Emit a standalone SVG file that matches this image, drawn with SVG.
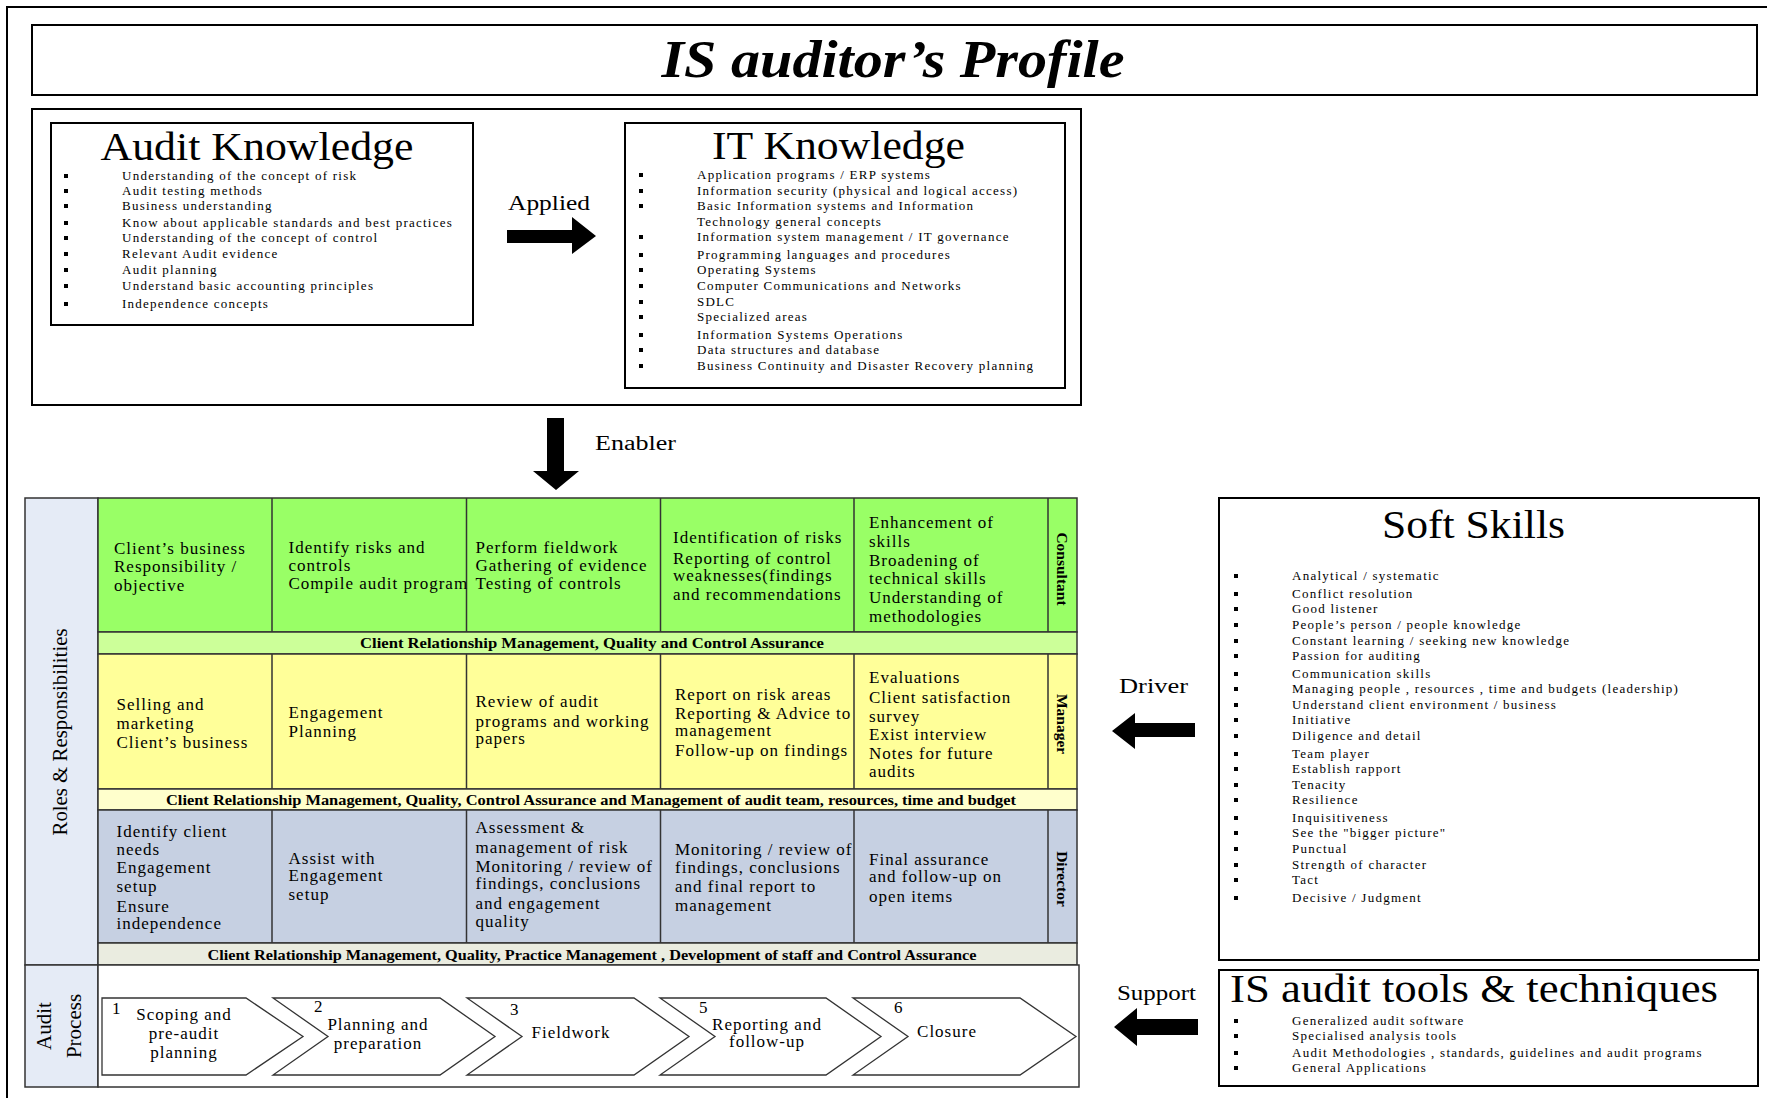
<svg xmlns="http://www.w3.org/2000/svg" width="1767" height="1098" viewBox="0 0 1767 1098">
<style>
.t{font-family:"Liberation Serif","Times New Roman",serif;fill:#000}
.box{fill:#fff;stroke:#000;stroke-width:2}
.ttl{font-size:41px}
.li{font-size:13px;letter-spacing:1.25px}
.cell{font-size:17px;letter-spacing:1px}
.band{font-size:14px;font-weight:bold}
.role{font-size:15.5px;font-weight:bold}
.lbl{font-size:20px}
.side{font-size:21px}
.g{stroke:#333;stroke-width:1.5}
.chev{fill:#fff;stroke:#333;stroke-width:1.3}
.blt{fill:#000}
.arr{fill:#000}
.mid{text-anchor:middle}
</style>
<defs>
<rect id="b" width="4" height="4" class="blt"/>
</defs>

<rect x="7" y="7" width="1800" height="1200" fill="#fff" stroke="#000" stroke-width="2"/>

<g id="title">
<rect class="box" x="32" y="25" width="1725" height="70"/>
<text class="t mid" x="893" y="77" font-size="52" font-weight="bold" font-style="italic" textLength="463" lengthAdjust="spacingAndGlyphs">IS auditor&#8217;s Profile</text>
</g>

<g id="knowledge-frame">
<rect class="box" x="32" y="109" width="1049" height="296"/>
</g>

<g id="audit-knowledge">
<rect class="box" x="51" y="123" width="422" height="202"/>
<text class="t mid" font-size="39" x="257" y="160" textLength="313" lengthAdjust="spacingAndGlyphs">Audit Knowledge</text>
<use href="#b" x="64" y="174"/><text class="t li" x="122" y="180">Understanding of the concept of risk</text>
<use href="#b" x="64" y="189"/><text class="t li" x="122" y="195">Audit testing methods</text>
<use href="#b" x="64" y="204"/><text class="t li" x="122" y="210">Business understanding</text>
<use href="#b" x="64" y="221"/><text class="t li" x="122" y="227">Know about applicable standards and best practices</text>
<use href="#b" x="64" y="236"/><text class="t li" x="122" y="242">Understanding of the concept of control</text>
<use href="#b" x="64" y="252"/><text class="t li" x="122" y="258">Relevant Audit evidence</text>
<use href="#b" x="64" y="268"/><text class="t li" x="122" y="274">Audit planning</text>
<use href="#b" x="64" y="284"/><text class="t li" x="122" y="290">Understand basic accounting principles</text>
<use href="#b" x="64" y="302"/><text class="t li" x="122" y="308">Independence concepts</text>
</g>

<g id="it-knowledge">
<rect class="box" x="625" y="123" width="440" height="265"/>
<text class="t ttl mid" x="838.5" y="159" textLength="253" lengthAdjust="spacingAndGlyphs">IT Knowledge</text>
<use href="#b" x="639" y="173"/><text class="t li" x="697" y="179">Application programs  / ERP systems</text>
<use href="#b" x="639" y="189"/><text class="t li" x="697" y="195">Information security  (physical and logical access)</text>
<use href="#b" x="639" y="204"/><text class="t li" x="697" y="210">Basic Information systems and Information</text>
<text class="t li" x="697" y="226">Technology general concepts</text>
<use href="#b" x="639" y="235"/><text class="t li" x="697" y="241">Information system management   / IT governance</text>
<use href="#b" x="639" y="253"/><text class="t li" x="697" y="259">Programming languages and procedures</text>
<use href="#b" x="639" y="268"/><text class="t li" x="697" y="274">Operating Systems</text>
<use href="#b" x="639" y="284"/><text class="t li" x="697" y="290">Computer Communications and Networks</text>
<use href="#b" x="639" y="300"/><text class="t li" x="697" y="306">SDLC</text>
<use href="#b" x="639" y="315"/><text class="t li" x="697" y="321">Specialized areas</text>
<use href="#b" x="639" y="333"/><text class="t li" x="697" y="339">Information Systems Operations</text>
<use href="#b" x="639" y="348"/><text class="t li" x="697" y="354">Data structures and database</text>
<use href="#b" x="639" y="364"/><text class="t li" x="697" y="370">Business Continuity and Disaster Recovery planning</text>
</g>

<g id="roles">
<rect x="25" y="498" width="73" height="467" fill="#E5EBF6" class="g"/>
<rect x="98" y="498" width="979" height="134" fill="#99FF66" class="g"/>
<rect x="98" y="632" width="979" height="22" fill="#CCFF99" class="g"/>
<rect x="98" y="654" width="979" height="135" fill="#FFFF99" class="g"/>
<rect x="98" y="789" width="979" height="21" fill="#FFFFCC" class="g"/>
<rect x="98" y="810" width="979" height="133" fill="#C6D0E2" class="g"/>
<rect x="98" y="943" width="979" height="22" fill="#EAECE0" class="g"/>
<g class="g">
<line x1="272" y1="498" x2="272" y2="632"/><line x1="466.5" y1="498" x2="466.5" y2="632"/><line x1="660.5" y1="498" x2="660.5" y2="632"/><line x1="854" y1="498" x2="854" y2="632"/><line x1="1048" y1="498" x2="1048" y2="632"/>
<line x1="272" y1="654" x2="272" y2="789"/><line x1="466.5" y1="654" x2="466.5" y2="789"/><line x1="660.5" y1="654" x2="660.5" y2="789"/><line x1="854" y1="654" x2="854" y2="789"/><line x1="1048" y1="654" x2="1048" y2="789"/>
<line x1="272" y1="810" x2="272" y2="943"/><line x1="466.5" y1="810" x2="466.5" y2="943"/><line x1="660.5" y1="810" x2="660.5" y2="943"/><line x1="854" y1="810" x2="854" y2="943"/><line x1="1048" y1="810" x2="1048" y2="943"/>
</g>
<text class="t mid" font-size="21" transform="translate(67,732) rotate(-90)" textLength="207" lengthAdjust="spacingAndGlyphs">Roles &amp; Responsibilities</text>

<text class="t role mid" transform="translate(1062,569) rotate(90)" dominant-baseline="central">Consultant</text>
<text class="t role mid" transform="translate(1062,724) rotate(90)" dominant-baseline="central">Manager</text>
<text class="t role mid" transform="translate(1062,879) rotate(90)" dominant-baseline="central">Director</text>

<text class="t band mid" x="592" y="648" textLength="464" lengthAdjust="spacingAndGlyphs">Client Relationship Management, Quality and  Control Assurance</text>
<text class="t band mid" x="591" y="805" textLength="850" lengthAdjust="spacingAndGlyphs">Client Relationship Management, Quality,  Control Assurance and Management of audit team, resources, time and budget</text>
<text class="t band mid" x="592" y="959.5" textLength="769" lengthAdjust="spacingAndGlyphs">Client Relationship Management, Quality, Practice Management , Development of staff and Control Assurance</text>

<g class="t cell">
<text x="114" y="554">Client&#8217;s business</text><text x="114" y="572">Responsibility  /</text><text x="114" y="591">objective</text>
<text x="288.5" y="553">Identify risks and</text><text x="288.5" y="571">controls</text><text x="288.5" y="589">Compile audit program</text>
<text x="475.5" y="553">Perform fieldwork</text><text x="475.5" y="571">Gathering of evidence</text><text x="475.5" y="589">Testing of controls</text>
<text x="673" y="543">Identification of risks</text><text x="673" y="564">Reporting of control</text><text x="673" y="581">weaknesses(findings</text><text x="673" y="600">and recommendations</text>
<text x="869" y="528">Enhancement of</text><text x="869" y="547">skills</text><text x="869" y="566">Broadening of</text><text x="869" y="584">technical skills</text><text x="869" y="603">Understanding of</text><text x="869" y="622">methodologies</text>

<text x="116.5" y="710">Selling and</text><text x="116.5" y="729">marketing</text><text x="116.5" y="748">Client&#8217;s business</text>
<text x="288.5" y="718">Engagement</text><text x="288.5" y="737">Planning</text>
<text x="475.5" y="707">Review of audit</text><text x="475.5" y="727">programs and working</text><text x="475.5" y="744">papers</text>
<text x="675" y="700">Report on risk areas</text><text x="675" y="719">Reporting &amp; Advice to</text><text x="675" y="736">management</text><text x="675" y="756">Follow-up on findings</text>
<text x="869" y="683">Evaluations</text><text x="869" y="703">Client satisfaction</text><text x="869" y="722">survey</text><text x="869" y="740">Exist interview</text><text x="869" y="759">Notes for future</text><text x="869" y="777">audits</text>

<text x="116.5" y="837">Identify client</text><text x="116.5" y="855">needs</text><text x="116.5" y="873">Engagement</text><text x="116.5" y="892">setup</text><text x="116.5" y="912">Ensure</text><text x="116.5" y="929">independence</text>
<text x="288.5" y="864">Assist with</text><text x="288.5" y="881">Engagement</text><text x="288.5" y="900">setup</text>
<text x="475.5" y="833">Assessment &amp;</text><text x="475.5" y="853">management of risk</text><text x="475.5" y="872">Monitoring / review of</text><text x="475.5" y="889">findings, conclusions</text><text x="475.5" y="909">and engagement</text><text x="475.5" y="927">quality</text>
<text x="675" y="855">Monitoring / review of</text><text x="675" y="873">findings, conclusions</text><text x="675" y="892">and final report to</text><text x="675" y="911">management</text>
<text x="869" y="865">Final assurance</text><text x="869" y="882">and follow-up on</text><text x="869" y="902">open items</text>
</g>
</g>

<g id="audit-process">
<rect x="25" y="965" width="73" height="122" fill="#E5EBF6" class="g"/>
<rect x="98" y="965" width="981" height="122" fill="#fff" class="g"/>
<text class="t side mid" transform="translate(51,1026) rotate(-90)">Audit</text>
<text class="t side mid" transform="translate(81,1026) rotate(-90)">Process</text>
<polygon class="chev" points="102,998 246,998 303,1036.5 246,1075 102,1075"/>
<polygon class="chev" points="273,998 440,998 495,1036.5 440,1075 273,1075 328,1036.5"/>
<polygon class="chev" points="467,998 634,998 689,1036.5 634,1075 467,1075 522,1036.5"/>
<polygon class="chev" points="660,998 826,998 881,1036.5 826,1075 660,1075 715,1036.5"/>
<polygon class="chev" points="853,998 1020,998 1076,1036.5 1020,1075 853,1075 908,1036.5"/>
<g class="t cell">
<text x="112" y="1014">1</text>
<text class="mid" x="184" y="1020">Scoping and</text><text class="mid" x="184" y="1039">pre-audit</text><text class="mid" x="184" y="1058">planning</text>
<text x="314" y="1012">2</text>
<text class="mid" x="378" y="1030">Planning and</text><text class="mid" x="378" y="1049">preparation</text>
<text x="510" y="1015">3</text>
<text class="mid" x="571" y="1038">Fieldwork</text>
<text x="699" y="1013">5</text>
<text class="mid" x="767" y="1030">Reporting and</text><text class="mid" x="767" y="1047">follow-up</text>
<text x="894" y="1013">6</text>
<text class="mid" x="947" y="1037">Closure</text>
</g>
</g>

<g id="soft-skills">
<rect class="box" x="1219" y="498" width="540" height="462"/>
<text class="t ttl mid" x="1473.5" y="538" textLength="183" lengthAdjust="spacingAndGlyphs">Soft Skills</text>
<g class="t li">
<use href="#b" x="1234" y="574"/><text x="1292" y="580">Analytical / systematic</text>
<use href="#b" x="1234" y="592"/><text x="1292" y="598">Conflict resolution</text>
<use href="#b" x="1234" y="607"/><text x="1292" y="613">Good listener</text>
<use href="#b" x="1234" y="623"/><text x="1292" y="629">People&#8217;s person / people knowledge</text>
<use href="#b" x="1234" y="639"/><text x="1292" y="645">Constant learning  / seeking new knowledge</text>
<use href="#b" x="1234" y="654"/><text x="1292" y="660">Passion for auditing</text>
<use href="#b" x="1234" y="672"/><text x="1292" y="678">Communication skills</text>
<use href="#b" x="1234" y="687"/><text x="1292" y="693">Managing people , resources , time and budgets (leadership)</text>
<use href="#b" x="1234" y="703"/><text x="1292" y="709">Understand client environment  / business</text>
<use href="#b" x="1234" y="718"/><text x="1292" y="724">Initiative</text>
<use href="#b" x="1234" y="734"/><text x="1292" y="740">Diligence and detail</text>
<use href="#b" x="1234" y="752"/><text x="1292" y="758">Team player</text>
<use href="#b" x="1234" y="767"/><text x="1292" y="773">Establish rapport</text>
<use href="#b" x="1234" y="783"/><text x="1292" y="789">Tenacity</text>
<use href="#b" x="1234" y="798"/><text x="1292" y="804">Resilience</text>
<use href="#b" x="1234" y="816"/><text x="1292" y="822">Inquisitiveness</text>
<use href="#b" x="1234" y="831"/><text x="1292" y="837">See the &quot;bigger picture&quot;</text>
<use href="#b" x="1234" y="847"/><text x="1292" y="853">Punctual</text>
<use href="#b" x="1234" y="863"/><text x="1292" y="869">Strength of character</text>
<use href="#b" x="1234" y="878"/><text x="1292" y="884">Tact</text>
<use href="#b" x="1234" y="896"/><text x="1292" y="902">Decisive / Judgment</text>
</g>
</g>

<g id="tools">
<rect class="box" x="1219" y="970" width="539" height="116"/>
<text class="t" x="1230" y="1002" font-size="41" textLength="488" lengthAdjust="spacingAndGlyphs">IS audit tools  &amp; techniques</text>
<g class="t li">
<use href="#b" x="1234" y="1019"/><text x="1292" y="1025">Generalized audit software</text>
<use href="#b" x="1234" y="1034"/><text x="1292" y="1040">Specialised analysis tools</text>
<use href="#b" x="1234" y="1051"/><text x="1292" y="1057">Audit Methodologies , standards, guidelines and audit programs</text>
<use href="#b" x="1234" y="1066"/><text x="1292" y="1072">General Applications</text>
</g>
</g>

<g id="connectors">
<polygon class="arr" points="507,230 572,230 572,217 596,236 572,254 572,243 507,243"/>
<text class="t lbl" x="508" y="210" textLength="82" lengthAdjust="spacingAndGlyphs">Applied</text>
<polygon class="arr" points="547,418 564,418 564,471 579,471 556,490 533,471 547,471"/>
<text class="t lbl" x="595" y="450" textLength="81" lengthAdjust="spacingAndGlyphs">Enabler</text>
<polygon class="arr" points="1112,731 1135,713 1135,723 1195,723 1195,737 1135,737 1135,749"/>
<text class="t lbl" x="1119" y="693" textLength="69" lengthAdjust="spacingAndGlyphs">Driver</text>
<polygon class="arr" points="1114,1027 1137,1008 1137,1019 1198,1019 1198,1035 1137,1035 1137,1046"/>
<text class="t lbl" x="1117" y="1000" textLength="79" lengthAdjust="spacingAndGlyphs">Support</text>
</g>
</svg>
